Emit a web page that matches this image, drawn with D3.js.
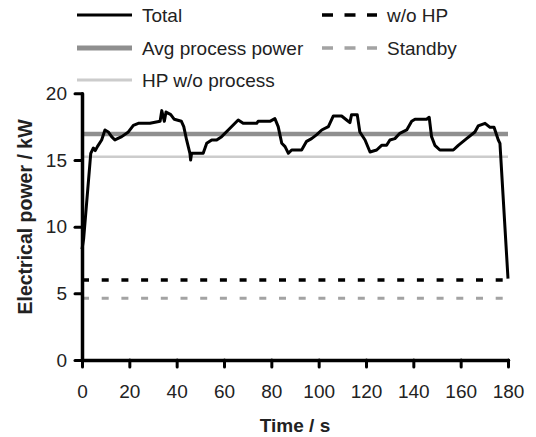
<!DOCTYPE html>
<html>
<head>
<meta charset="utf-8">
<script src="https://cdn.jsdelivr.net/npm/d3@7"></script>
<style>
  body { margin: 0; background: #fff; }
  text { font-family: "Liberation Sans", Arial, sans-serif; fill: #222; }
</style>
</head>
<body>
<script>
// measured total power over one cycle (s, kW)
var time = [0, 0.7, 3.7, 4.8, 5.6, 6.5, 8.3, 9.7, 11.1, 12.5, 13.9, 16.8, 19.6, 21.7, 23.8, 28.7,
    33.0, 33.7, 34.8, 35.5, 37.5, 39.0, 42.0, 43.0, 44.2, 45.6, 45.9, 46.3, 51.2, 52.7, 54.8, 56.9,
    59.0, 61.8, 66.0, 68.1, 73.8, 74.4, 79.4, 81.5, 82.9, 84.4, 85.8, 87.2, 88.6, 92.8, 94.9, 97.0,
    99.2, 101.3, 104.1, 106.2, 109.7, 111.8, 113.2, 113.9, 116.3, 117.4, 119.6, 121.7, 124.5, 126.6,
    128.7, 130.1, 132.2, 134.3, 137.2, 139.3, 140.7, 145.6, 146.7, 147.7, 149.1, 151.2, 156.9, 159.0,
    162.5, 166.0, 167.4, 170.3, 172.4, 174.1, 175.9, 176.6, 180];
var total = [8.3, 9.1, 15.5, 15.9, 15.7, 16.0, 16.5, 17.25, 17.1, 16.75, 16.5, 16.75, 17.1, 17.6, 17.75, 17.75,
    17.9, 18.7, 17.9, 18.6, 18.4, 18.05, 17.9, 17.5, 16.5, 15.5, 15.0, 15.5, 15.5, 16.25, 16.5, 16.5,
    16.75, 17.25, 18.0, 17.75, 17.75, 17.9, 17.9, 18.1, 17.5, 16.25, 16.0, 15.5, 15.75, 15.75, 16.4, 16.6,
    16.9, 17.25, 17.5, 18.3, 18.3, 18.0, 17.8, 18.4, 18.4, 17.1, 16.5, 15.6, 15.75, 16.1,
    16.1, 16.5, 16.6, 17.0, 17.25, 17.9, 18.05, 18.05, 18.2, 16.75, 16.1, 15.75, 15.75, 16.1,
    16.6, 17.1, 17.55, 17.75, 17.45, 17.45, 16.5, 16.25, 6.1];

// constant reference levels (kW)
var refNames = ["Avg process power", "HP w/o process", "w/o HP", "Standby"];
var refValues = [16.95, 15.25, 6.0, 4.63];
var refSpan = [0, 180];

var xTicks = [0, 20, 40, 60, 80, 100, 120, 140, 160, 180];
var yTicks = [0, 5, 10, 15, 20];

var w = 536, h = 437;

var svg = d3.select("body").append("svg")
    .attr("width", w)
    .attr("height", h);

var x = d3.scaleLinear().domain([0, 180]).range([82, 508]);
var y = d3.scaleLinear().domain([0, 20]).range([360, 93.3]);

var line = d3.line()
    .x(function(d) { return x(d[0]); })
    .y(function(d) { return y(d[1]); });

// styles for reference lines, same order as refNames
var refStyle = [
    {stroke: "#8f8f8f", width: 4.5, dash: null},
    {stroke: "#cccccc", width: 2.5, dash: null},
    {stroke: "#000000", width: 3.5, dash: "7,12.7"},
    {stroke: "#a3a3a3", width: 3, dash: "7,12.7"}
];

// dashed ones first, solid gray on top of them
[2, 3, 1, 0].forEach(function(i) {
    svg.append("path")
        .datum(refSpan.map(function(t) { return [t, refValues[i]]; }))
        .attr("d", line)
        .attr("fill", "none")
        .attr("stroke", refStyle[i].stroke)
        .attr("stroke-width", refStyle[i].width)
        .attr("stroke-dasharray", refStyle[i].dash);
});

svg.append("path")
    .datum(time.map(function(t, i) { return [t, total[i]]; }))
    .attr("d", line)
    .attr("fill", "none")
    .attr("stroke", "#000")
    .attr("stroke-width", 3)
    .attr("stroke-linejoin", "round");

// axes
var xAxis = svg.append("g")
    .attr("transform", "translate(0,360)")
    .call(d3.axisBottom(x).tickValues(xTicks).tickSize(7).tickSizeOuter(0).tickPadding(18));
var yAxis = svg.append("g")
    .attr("transform", "translate(82,0)")
    .call(d3.axisLeft(y).tickValues(yTicks).tickSize(7).tickSizeOuter(0).tickPadding(8));

[xAxis, yAxis].forEach(function(a) {
    a.select(".domain").attr("stroke", "#000").attr("stroke-width", 3.5).attr("stroke-linecap", "round");
    a.selectAll(".tick line").attr("stroke", "#000").attr("stroke-width", 3).attr("stroke-linecap", "round");
    a.selectAll(".tick text").attr("font-size", 19).attr("fill", "#222")
        .attr("font-family", "Liberation Sans, Arial, sans-serif");
});

svg.append("text")
    .attr("x", 295)
    .attr("y", 432)
    .attr("text-anchor", "middle")
    .attr("font-size", 19)
    .attr("font-weight", "bold")
    .text("Time / s");

svg.append("text")
    .attr("transform", "translate(32,217) rotate(-90)")
    .attr("text-anchor", "middle")
    .attr("font-size", 19.5)
    .attr("font-weight", "bold")
    .text("Electrical power / kW");

// legend
var legend = [
    {name: "Total", col: 0, row: 0, stroke: "#000", width: 3, dash: null},
    {name: refNames[0], col: 0, row: 1, stroke: "#8f8f8f", width: 5, dash: null},
    {name: refNames[1], col: 0, row: 2, stroke: "#cccccc", width: 3, dash: null},
    {name: refNames[2], col: 1, row: 0, stroke: "#000", width: 3.5, dash: "11,11.5"},
    {name: refNames[3], col: 1, row: 1, stroke: "#a3a3a3", width: 3.5, dash: "11,11.5"}
];
var colX = [77, 322];
var rowY = [15, 48, 80];

var item = svg.append("g").selectAll("g")
    .data(legend)
    .enter()
    .append("g")
    .attr("transform", function(d) { return "translate(" + colX[d.col] + "," + rowY[d.row] + ")"; });

item.append("line")
    .attr("x1", 0).attr("x2", 55)
    .attr("stroke", function(d) { return d.stroke; })
    .attr("stroke-width", function(d) { return d.width; })
    .attr("stroke-dasharray", function(d) { return d.dash; });

item.append("text")
    .attr("x", 65)
    .attr("y", 7)
    .attr("font-size", 19)
    .text(function(d) { return d.name; });
</script>
</body>
</html>
